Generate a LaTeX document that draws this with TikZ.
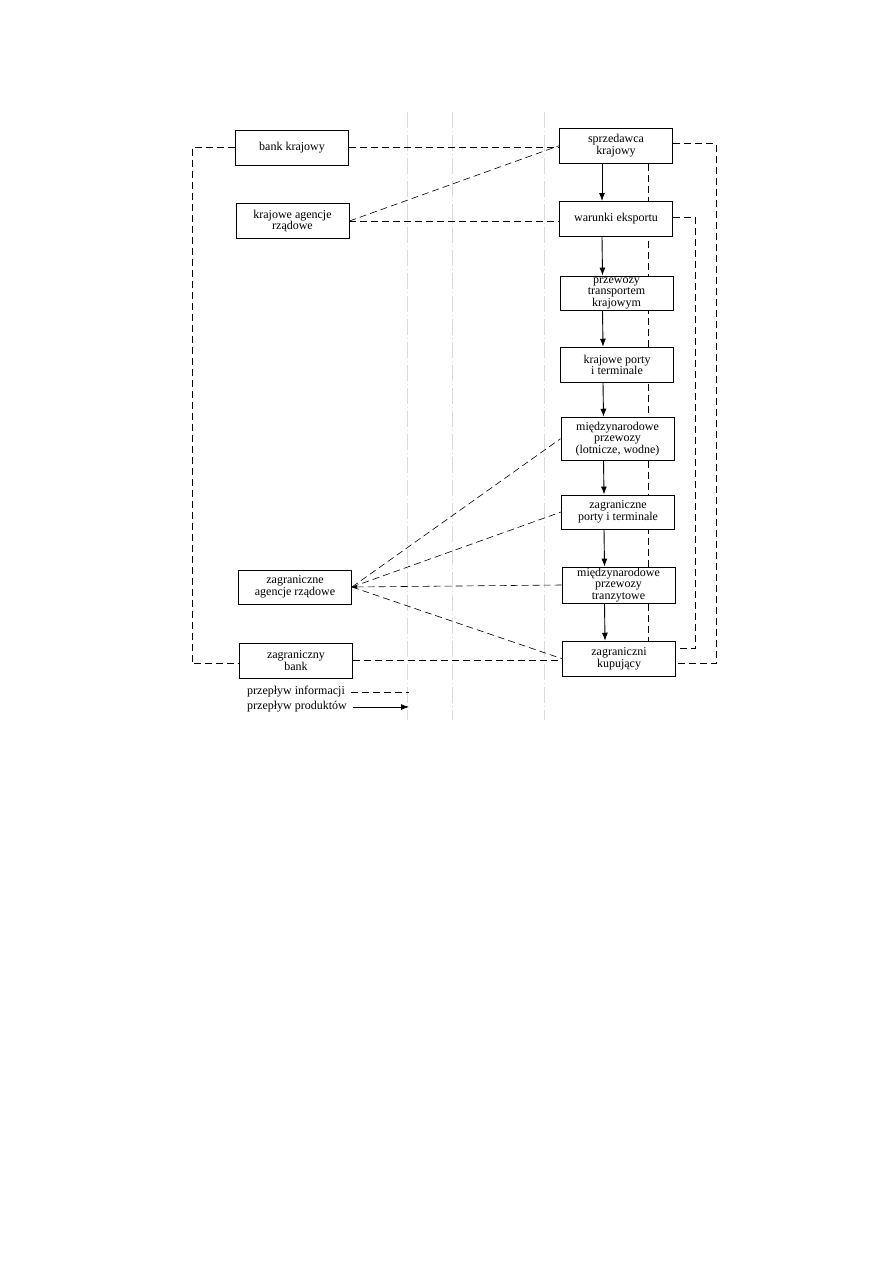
\documentclass[tikz,border=0pt]{standalone}
\usepackage{fontspec}
\setmainfont{Liberation Serif}
\usetikzlibrary{arrows.meta,backgrounds}

\begin{document}
\begin{tikzpicture}[x=1pt, y=-1pt, font=\fontsize{12}{11.5}\selectfont,
  box/.style={draw, line width=0.9pt, fill=white, align=center, minimum width=113pt, minimum height=35pt, inner sep=1pt},
  info/.style={dash pattern=on 7pt off 4pt, line width=0.6pt},
  prod/.style={-{Latex[length=8pt,width=6pt]}, line width=0.9pt}]
  \useasboundingbox (0,0) rectangle (893,1263);
  \node[box] (bk) at (292,147.5) {bank krajowy};
  \node[box] (kar) at (292.5,221) {krajowe agencje\\rządowe};
  \node[box] (sk) at (616,145.7) {sprzedawca\\krajowy};
  \node[box] (we) at (616,219) {warunki eksportu};
  \node[box, minimum height=34pt] (ptk) at (616.5,293) {przewozy\\transportem\\krajowym};
  \node[box] (kpt) at (617,364.7) {krajowe porty\\i terminale};
  \node[box, minimum height=43pt] (mpl) at (617.5,438.7) {międzynarodowe\\przewozy\\(lotnicze, wodne)};
  \node[box, minimum height=34pt] (zpt) at (618,512) {zagraniczne\\porty i terminale};
  \node[box, minimum height=34pt] (mpt) at (618.5,585) {międzynarodowe\\przewozy\\tranzytowe};
  \node[box] (zk) at (619,658.7) {zagraniczni\\kupujący};
  \node[box, minimum height=34pt] (zar) at (295,587) {zagraniczne\\agencje rządowe};
  \node[box] (zb) at (296,660.7) {zagraniczny\\bank};
  \begin{scope}[on background layer]
    \foreach \x in {407,452,544}
      \draw[gray!30, line width=0.4pt, dash pattern=on 16pt off 3pt on 1pt off 3pt] (\x,112) -- (\x,720);
    \draw[info] ([xshift=32pt]sk.south) -- ([xshift=29pt]zk.north);
  \end{scope}
  \foreach \a/\b in {sk/we, we/ptk, ptk/kpt, kpt/mpl, mpl/zpt, zpt/mpt, mpt/zk}
    \draw[prod] ([xshift=-14pt]\a.south) -- ([xshift=-14pt]\b.north);
  \draw[info] (bk.west) -- ++(-43,0) |- ([yshift=-3pt]zb.west);
  \draw[info] (bk.east) -- (bk.east -| sk.west);
  \draw[info] (kar.east) -- (sk.west);
  \draw[info] (kar.east) -- (kar.east -| we.west);
  \draw[info] ([yshift=2pt]sk.east) -- ++(43,0) |- ([yshift=-5pt]zk.east);
  \draw[info] ([yshift=2pt]we.east) -- ++(22,0) |- ([yshift=10pt]zk.east);
  \foreach \t in {mpl, zpt, zk}
    \draw[info] (zar.east) -- (\t.west);
  \draw[info, -{Latex[length=5pt,width=4pt]}] (mpt.west) -- (zar.east);
  \draw[info] (zb.east) -- (zb.east -| zk.west);
  \node[anchor=west, inner sep=0pt] (li) at (247,692) {przepływ informacji};
  \node[anchor=west, inner sep=0pt] (lp) at (247,707) {przepływ produktów};
  \coordinate (lie) at (409,692);
  \coordinate (lpe) at (409,707);
  \draw[info] ([xshift=6pt]li.east) -- (lie);
  \draw[prod] ([xshift=6pt]lp.east) -- (lpe);
\end{tikzpicture}
\end{document}
